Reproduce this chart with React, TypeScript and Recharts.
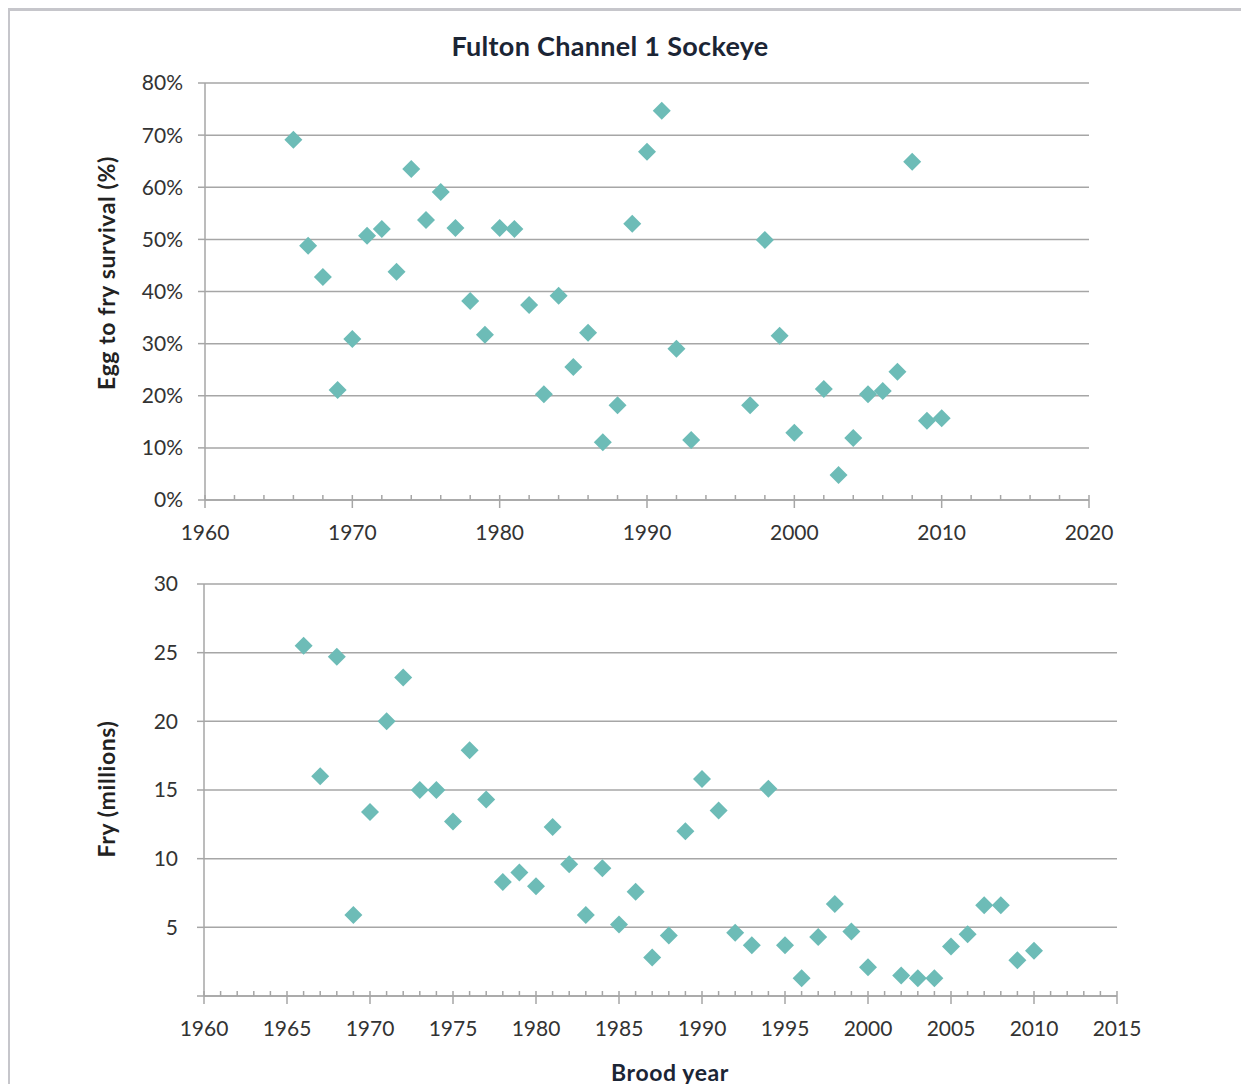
import React from 'react';
import { ScatterChart, Scatter, XAxis, YAxis, CartesianGrid } from 'recharts';

// Egg to fry survival (%) by brood year
const survivalYears = [
  1966, 1967, 1968, 1969, 1970, 1971, 1972, 1973, 1974, 1975, 1976, 1977, 1978, 1979,
  1980, 1981, 1982, 1983, 1984, 1985, 1986, 1987, 1988, 1989, 1990, 1991, 1992, 1993,
  1997, 1998, 1999, 2000, 2002, 2003, 2004, 2005, 2006, 2007, 2008, 2009, 2010,
];
const survivalValues = [
  69.1, 48.8, 42.8, 21.1, 30.9, 50.7, 52.0, 43.8, 63.5, 53.7, 59.1, 52.2, 38.2, 31.7,
  52.2, 52.0, 37.4, 20.3, 39.2, 25.5, 32.1, 11.1, 18.2, 53.0, 66.8, 74.7, 29.0, 11.5,
  18.2, 49.9, 31.5, 12.9, 21.3, 4.8, 11.9, 20.3, 20.9, 24.6, 64.9, 15.2, 15.7,
];

// Fry (millions) by brood year
const fryYears = [
  1966, 1967, 1968, 1969, 1970, 1971, 1972, 1973, 1974, 1975, 1976, 1977, 1978, 1979,
  1980, 1981, 1982, 1983, 1984, 1985, 1986, 1987, 1988, 1989, 1990, 1991, 1992, 1993,
  1994, 1995, 1996, 1997, 1998, 1999, 2000, 2002, 2003, 2004, 2005, 2006, 2007, 2008,
  2009, 2010,
];
const fryValues = [
  25.5, 16.0, 24.7, 5.9, 13.4, 20.0, 23.2, 15.0, 15.0, 12.7, 17.9, 14.3, 8.3, 9.0,
  8.0, 12.3, 9.6, 5.9, 9.3, 5.2, 7.6, 2.8, 4.4, 12.0, 15.8, 13.5, 4.6, 3.7,
  15.1, 3.7, 1.3, 4.3, 6.7, 4.7, 2.1, 1.5, 1.3, 1.3, 3.6, 4.5, 6.6, 6.6,
  2.6, 3.3,
];

const survivalTicks = [0, 10, 20, 30, 40, 50, 60, 70, 80];
const fryTicks = [0, 5, 10, 15, 20, 25, 30];
const topYearTicks = Array.from({ length: 31 }, (_, i) => 1960 + i * 2);
const bottomYearTicks = Array.from({ length: 56 }, (_, i) => 1960 + i);

const survivalData = survivalYears.map((year, i) => ({ year, value: survivalValues[i] }));
const fryData = fryYears.map((year, i) => ({ year, value: fryValues[i] }));

const TEAL = '#6dbcb7';
const GRID = '#a6a6a6';
const FONT = 'Lato, "Open Sans", sans-serif';

const Diamond = (props: any) => {
  const { cx, cy } = props;
  const r = 9;
  return <path d={`M${cx},${cy - r}L${cx + r},${cy}L${cx},${cy + r}L${cx - r},${cy}Z`} fill={TEAL} />;
};

// x axis tick: long crossing tick + label on majors, short inner tick on minors
const makeYearTick = (major: number) => (props: any) => {
  const { x, y, payload } = props;
  const v = payload.value as number;
  const isMajor = v % major === 0;
  return (
    <g>
      <line x1={x} x2={x} y1={y - 5} y2={isMajor ? y + 8 : y} stroke={GRID} strokeWidth={1.5} />
      {isMajor && (
        <text x={x} y={y + 31} textAnchor="middle" dominantBaseline="central" fontSize={21} fill="#333" fontFamily={FONT}>
          {v}
        </text>
      )}
    </g>
  );
};

const tickStyle = { fontSize: 21, fill: '#333', fontFamily: FONT };
const axisTitle: React.CSSProperties = {
  position: 'absolute',
  fontFamily: FONT,
  fontWeight: 700,
  fontSize: 23,
  letterSpacing: 0.6,
  color: '#222',
  whiteSpace: 'nowrap',
};

export default function App() {
  return (
    <div style={{ position: 'relative', width: 1241, height: 1076 }}>
      <div
        style={{
          position: 'absolute', left: -1, top: 0, width: 1241, height: 1076, boxSizing: 'border-box',
          borderLeft: '3px solid #c6c6cb', borderTop: '3px solid #c6c6cb',
        }}
      />
      <div style={{ ...axisTitle, left: 602, top: 37, fontSize: 27, letterSpacing: 0.3, color: '#1b2535', transform: 'translate(-50%, -50%)' }}>
        Fulton Channel 1 Sockeye
      </div>
      <div style={{ ...axisTitle, left: 98, top: 265, transform: 'translate(-50%, -50%) rotate(-90deg)' }}>
        Egg to fry survival (%)
      </div>
      <div style={{ ...axisTitle, left: 98, top: 781, transform: 'translate(-50%, -50%) rotate(-90deg)' }}>
        Fry (millions)
      </div>
      <div style={{ ...axisTitle, left: 662, top: 1064, color: '#1b2535', transform: 'translate(-50%, -50%)' }}>
        Brood year
      </div>

      <div style={{ position: 'absolute', left: 0, top: 0 }}>
        <ScatterChart width={1121} height={552} margin={{ top: 75, right: 40, bottom: 0, left: 97 }}>
          <CartesianGrid vertical={false} stroke={GRID} strokeWidth={1.5} />
          <XAxis
            type="number" dataKey="year" domain={[1960, 2020]} ticks={topYearTicks} interval={0}
            axisLine={{ stroke: GRID, strokeWidth: 1.5 }} tickLine={false} tickSize={0} tickMargin={0}
            tick={makeYearTick(10)} height={60}
          />
          <YAxis
            type="number" dataKey="value" domain={[0, 80]} ticks={survivalTicks} interval={0} width={100}
            axisLine={{ stroke: GRID, strokeWidth: 1.5 }} tickLine={{ stroke: GRID, strokeWidth: 1.5 }}
            tickSize={7} tickMargin={15} tick={tickStyle} tickFormatter={(v: number) => `${v}%`}
          />
          <Scatter data={survivalData} shape={Diamond} isAnimationActive={false} />
        </ScatterChart>
      </div>

      <div style={{ position: 'absolute', left: 0, top: 500 }}>
        <ScatterChart width={1149} height={548} margin={{ top: 76, right: 40, bottom: 0, left: 96 }}>
          <CartesianGrid vertical={false} stroke={GRID} strokeWidth={1.5} />
          <XAxis
            type="number" dataKey="year" domain={[1960, 2015]} ticks={bottomYearTicks} interval={0}
            axisLine={{ stroke: GRID, strokeWidth: 1.5 }} tickLine={false} tickSize={0} tickMargin={0}
            tick={makeYearTick(5)} height={60}
          />
          <YAxis
            type="number" dataKey="value" domain={[0, 30]} ticks={fryTicks} interval={0} width={100}
            axisLine={{ stroke: GRID, strokeWidth: 1.5 }} tickLine={{ stroke: GRID, strokeWidth: 1.5 }}
            tickSize={7} tickMargin={19} tick={tickStyle} tickFormatter={(v: number) => (v === 0 ? '' : String(v))}
          />
          <Scatter data={fryData} shape={Diamond} isAnimationActive={false} />
        </ScatterChart>
      </div>
    </div>
  );
}
